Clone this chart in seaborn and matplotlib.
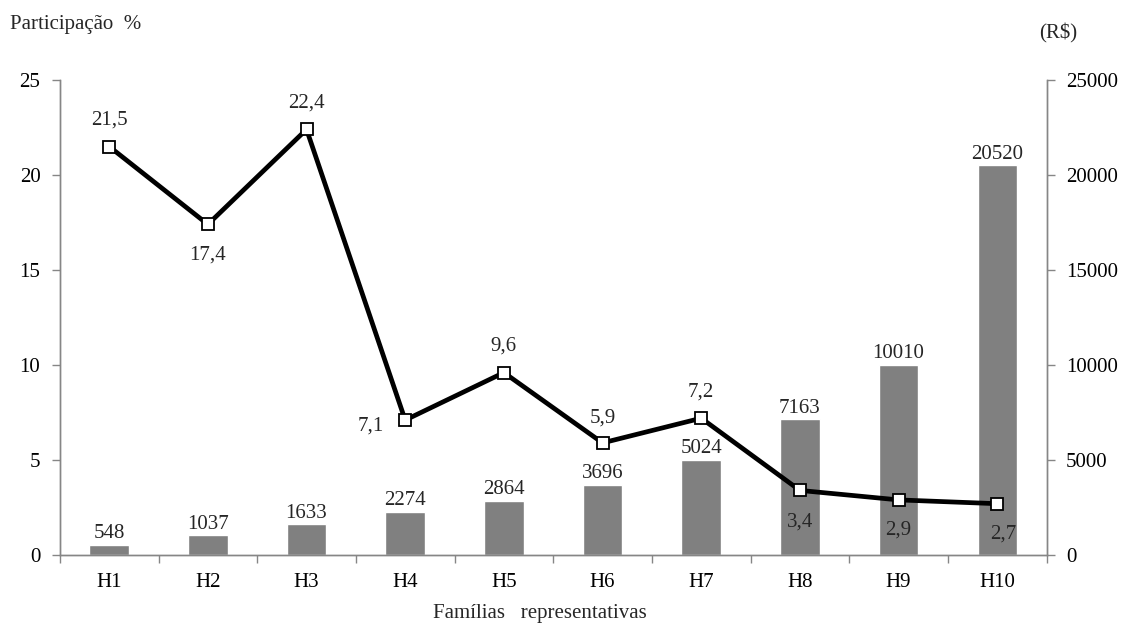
import matplotlib
matplotlib.use("Agg")
import matplotlib.pyplot as plt
import seaborn as sns
import numpy as np

categories = ["H1", "H2", "H3", "H4", "H5", "H6", "H7", "H8", "H9", "H10"]
renda = [548, 1037, 1633, 2274, 2864, 3696, 5024, 7163, 10010, 20520]
participacao = [21.5, 17.4, 22.4, 7.1, 9.6, 5.9, 7.2, 3.4, 2.9, 2.7]
pct_labels = ["21,5", "17,4", "22,4", "7,1", "9,6", "5,9", "7,2", "3,4", "2,9", "2,7"]
# label offsets (points) for the percentage labels
pct_offsets = [(0, 19), (0, -22), (0, 19), (-25, -4), (0, 19), (0, 18), (0, 19), (0, -23), (0, -22), (4, -22)]

sns.set_theme(style="white")
plt.rcParams['font.family'] = ['Liberation Serif', 'DejaVu Serif']

fs = 15
fig = plt.figure(figsize=(11.29, 6.25), dpi=100)
ax = fig.add_axes([0.053, 0.112, 0.874, 0.76])
ax2 = ax.twinx()

grey = "#868686"
sns.barplot(x=categories, y=renda, color="#808080", width=0.4, ax=ax2, saturation=1)
sns.pointplot(x=categories, y=participacao, color="black", markers="s", ax=ax,
              linewidth=3.4, markersize=8.5)
for ln in ax.lines:
    ln.set_markerfacecolor("white")
    ln.set_markeredgecolor("black")
    ln.set_markeredgewidth(1.3)

ax.set_zorder(ax2.get_zorder() + 1)
ax.patch.set_visible(False)

ax.set_ylim(0, 25)
ax2.set_ylim(0, 25000)
ax.set_xlim(-0.5, 9.5)
ax2.set_xlim(-0.5, 9.5)
ax.set_yticks([0, 5, 10, 15, 20, 25])
ax2.set_yticks([0, 5000, 10000, 15000, 20000, 25000])

ax.set_xticks(range(len(categories)))
ax.set_xticklabels(categories)
ax.set_xticks(np.arange(-0.5, 10, 1), minor=True)
ax.tick_params(axis="x", which="major", length=0, labelsize=fs, pad=13, colors="black")
ax.tick_params(axis="x", which="minor", length=6, color=grey, width=1, direction="out", bottom=True)
ax.tick_params(axis="y", length=6, color=grey, width=1, direction="out", labelsize=fs, pad=8, left=True)
ax2.tick_params(axis="y", length=6, color=grey, width=1, direction="out", labelsize=fs, pad=8, right=True)
ax2.tick_params(axis="x", bottom=False, labelbottom=False)
for t in ax.get_yticklabels() + ax.get_xticklabels() + ax2.get_yticklabels():
    t.set_color("black")

for a in (ax, ax2):
    a.spines["top"].set_visible(False)
    for s in ("left", "right", "bottom"):
        a.spines[s].set_color(grey)
        a.spines[s].set_linewidth(1)
    a.set_xlabel("")
    a.set_ylabel("")
    a.grid(False)

for i, v in enumerate(renda):
    ax2.annotate(str(v), (i, v), xytext=(0, 1), textcoords="offset points",
                 ha="center", va="bottom", fontsize=fs)
for i, v in enumerate(participacao):
    dx, dy = pct_offsets[i]
    ax.annotate(pct_labels[i], (i, v), xytext=(dx, dy), textcoords="offset points",
                ha="center", va="center", fontsize=fs)

fig.text(0.009, 0.96, "Participação  %", fontsize=fs, ha="left", va="center")
fig.text(0.920, 0.947, "(R\\$)", fontsize=fs, ha="left", va="center")
fig.text(0.478, 0.018, "Famílias   representativas", fontsize=fs, ha="center", va="center")

fig.savefig("out.png", dpi=100)
